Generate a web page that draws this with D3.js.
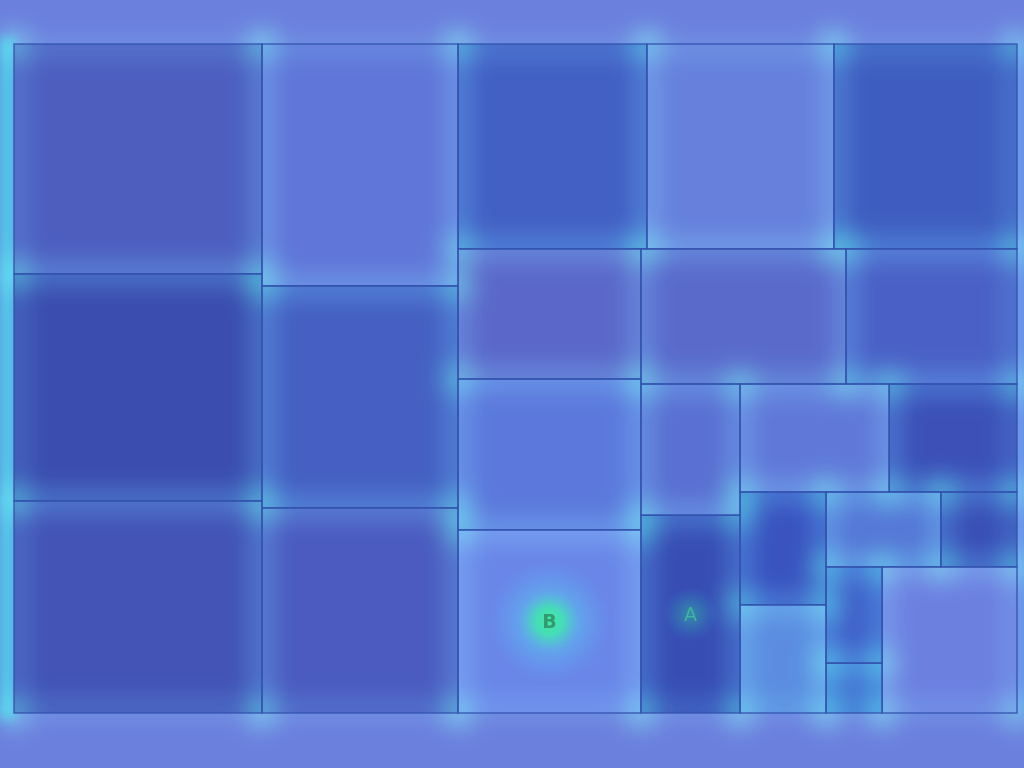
<!DOCTYPE html>
<html><head><meta charset="utf-8">
<script src="https://cdn.jsdelivr.net/npm/d3@7"></script>
<style>html,body{margin:0;padding:0;background:#6b7fdd;overflow:hidden}</style>
</head><body>
<svg id="chart" width="1024" height="768"></svg>
<script>
// ---- data ----
const cellNames = ["c0","c1","c2","c3","c4","c5","c6","c7","c8","c9","c10","B","c12","c13","c14","A","c16","c17","c18","c19","c20","c21","c22","c23","c24"];
const cellValues = [570,563,526,474,435,402,387,383,375,238,276,335,277,231,130,196,161,138,97,93,86,57,54,28,197];
const cellLabels = ["","","","","","","","","","","","B","","","","A","","","","","","","","",""];
// nesting of cell indices (alternating column / row groups)
const nesting = [[0,1,2],[3,4,5],[[6,7,8],[[9,10,11],[[12,13],[[14,15],[[16,17],[[18,19],[[20,21],[[22,23],24]]]]]]]]];
const cellShades = ["#4d5ebf","#3b4dae","#4354b6","#6076d8","#4560c2","#4b5bbf","#4360c4","#6680dc","#3f5dc0",
  "#5b68c9","#5c78dc","#6a86e8","#5a6acb","#4a60c6","#5a70d2","#384db4","#6078d8","#3c50b8",
  "#3a53bf","#5b8ce0","#5578d6","#3a4fb6","#3e5ec8","#4070d0","#6c80e0"];

function build(node){
  if (Array.isArray(node)) return {children: node.map(build)};
  return {name: cellNames[node], value: cellValues[node], idx: node};
}
const root = d3.hierarchy(build(nesting)).sum(d => d.value || 0);
d3.treemap().tile(d3.treemapSliceDice).size([1003, 669]).round(false)(root);

const svg = d3.select("#chart");
const defs = svg.append("defs");
defs.append("filter").attr("id","blur").attr("x","-20%").attr("y","-20%").attr("width","140%").attr("height","140%")
  .append("feGaussianBlur").attr("stdDeviation", 12);
defs.append("filter").attr("id","blurS").attr("x","-50%").attr("y","-50%").attr("width","200%").attr("height","200%")
  .append("feGaussianBlur").attr("stdDeviation", 6);
const rg = defs.append("radialGradient").attr("id","greenGlow");
rg.append("stop").attr("offset","0%").attr("stop-color","#40f0a0").attr("stop-opacity",1);
rg.append("stop").attr("offset","22%").attr("stop-color","#40eab0").attr("stop-opacity",0.9);
rg.append("stop").attr("offset","50%").attr("stop-color","#58c8f0").attr("stop-opacity",0.45);
rg.append("stop").attr("offset","100%").attr("stop-color","#60b0ff").attr("stop-opacity",0);
const rg2 = defs.append("radialGradient").attr("id","greenGlowSoft");
rg2.append("stop").attr("offset","0%").attr("stop-color","#30c0a0").attr("stop-opacity",0.7);
rg2.append("stop").attr("offset","50%").attr("stop-color","#30b0b0").attr("stop-opacity",0.35);
rg2.append("stop").attr("offset","100%").attr("stop-color","#3090d0").attr("stop-opacity",0);

svg.append("rect").attr("width",1024).attr("height",768).attr("fill","#6b7fdd");

const g = svg.append("g").attr("transform","translate(14,44)");
const leaves = root.leaves();

// outer glow
g.append("rect").attr("x",-14).attr("y",-6).attr("width",14).attr("height",681)
  .attr("fill","#48d4e8").attr("filter","url(#blurS)").attr("opacity",0.95);
g.append("rect").attr("x",1003).attr("y",0).attr("width",7).attr("height",669)
  .attr("fill","#60a8f8").attr("filter","url(#blurS)").attr("opacity",0.8);

g.selectAll("rect.cell").data(leaves).join("rect").attr("class","cell")
  .attr("x", d => d.x0).attr("y", d => d.y0)
  .attr("width", d => d.x1 - d.x0).attr("height", d => d.y1 - d.y0)
  .attr("fill", d => cellShades[d.data.idx]);

// glow layer
const glow = g.append("g").attr("filter","url(#blur)").style("mix-blend-mode","screen").attr("opacity",0.7);
glow.selectAll("rect").data(leaves).join("rect")
  .attr("x", d => d.x0 + 4).attr("y", d => d.y0 + 4)
  .attr("width", d => Math.max(0, d.x1 - d.x0 - 8)).attr("height", d => Math.max(0, d.y1 - d.y0 - 8))
  .attr("fill","none").attr("stroke","#2f8fe0").attr("stroke-width",12).attr("opacity",0.6);
// corner spots
const corners = [];
leaves.forEach(d => { corners.push([d.x0, d.y0], [d.x1, d.y0], [d.x0, d.y1], [d.x1, d.y1]); });
glow.selectAll("circle").data(corners).join("circle")
  .attr("cx", d => d[0]).attr("cy", d => d[1]).attr("r", 14)
  .attr("fill","#30e8d0").attr("opacity",0.9);

// outlines
g.selectAll("rect.edge").data(leaves).join("rect").attr("class","edge")
  .attr("x", d => d.x0).attr("y", d => d.y0)
  .attr("width", d => d.x1 - d.x0).attr("height", d => d.y1 - d.y0)
  .attr("fill","none").attr("stroke","#3352ae").attr("stroke-width",1.5).attr("opacity",0.85);

// labels
const lab = leaves.filter(d => cellLabels[d.data.idx]);
g.selectAll("circle.lg").data(lab).join("circle").attr("class","lg")
  .attr("cx", d => (d.x0 + d.x1) / 2).attr("cy", d => (d.y0 + d.y1) / 2)
  .attr("r", d => cellLabels[d.data.idx] === "B" ? 62 : 28)
  .attr("fill", d => cellLabels[d.data.idx] === "B" ? "url(#greenGlow)" : "url(#greenGlowSoft)")
  .attr("opacity", d => cellLabels[d.data.idx] === "B" ? 0.95 : 0.8);
g.selectAll("text.lab").data(lab).join("text").attr("class","lab")
  .attr("x", d => (d.x0 + d.x1) / 2).attr("y", d => (d.y0 + d.y1) / 2)
  .attr("text-anchor","middle").attr("dominant-baseline","central")
  .attr("font-family","DejaVu Sans, sans-serif").attr("font-size",19)
  .attr("font-weight", d => cellLabels[d.data.idx] === "B" ? "bold" : "normal")
  .attr("fill", d => cellLabels[d.data.idx] === "B" ? "#349a72" : "#40b0a0")
  .attr("opacity", 1)
  .text(d => cellLabels[d.data.idx]);
</script>
</body></html>
